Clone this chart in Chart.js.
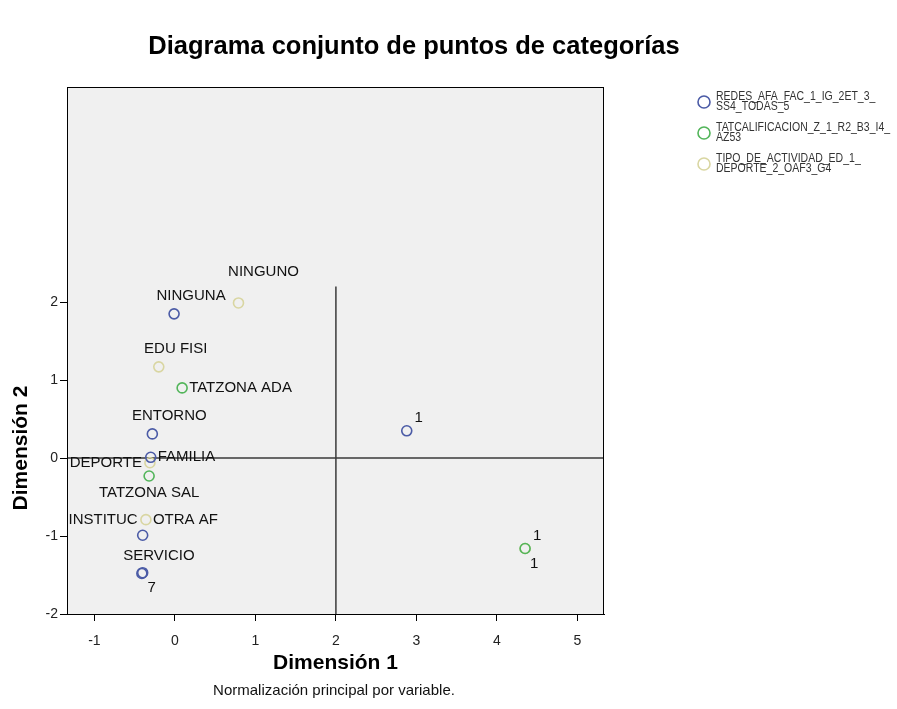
<!DOCTYPE html>
<html><head><meta charset="utf-8">
<script src="https://cdn.jsdelivr.net/npm/chart.js@4.4.1/dist/chart.umd.min.js"></script>
<style>html,body{margin:0;padding:0;background:#fff;}#wrap{width:897px;height:709px;position:relative;}</style>
</head><body><div id="wrap"><canvas id="c" width="897" height="709"></canvas></div>
<script>
const chartTitle = 'Diagrama conjunto de puntos de categorías';
const xTitle = 'Dimensión 1';
const yTitle = 'Dimensión 2';
const footnote = 'Normalización principal por variable.';
const seriesNames = [
  ['REDES_AFA_FAC_1_IG_2ET_3_', 'SS4_TODAS_5'],
  ['TATCALIFICACION_Z_1_R2_B3_I4_', 'AZ53'],
  ['TIPO_DE_ACTIVIDAD_ED_1_', 'DEPORTE_2_OAF3_G4']
];
const xTicks = [-1, 0, 1, 2, 3, 4, 5];
const yTicks = [-2, -1, 0, 1, 2];

const redesLabels = ['NINGUNA', 'ENTORNO', 'FAMILIA', 'INSTITUC', 'SERVICIO', '7', '1'];
const redesX = [-0.01, -0.28, -0.30, -0.40, -0.41, -0.40, 2.88];
const redesY = [1.85, 0.31, 0.01, -0.99, -1.48, -1.47, 0.35];

const tatLabels = ['TATZONA ADA', 'TATZONA SAL', '1'];
const tatX = [0.09, -0.32, 4.35];
const tatY = [0.90, -0.23, -1.16];

const tipoLabels = ['NINGUNO', 'EDU FISI', 'DEPORTE', 'OTRA AF', '1'];
const tipoX = [0.79, -0.20, -0.31, -0.36, 4.35];
const tipoY = [1.99, 1.17, -0.06, -0.79, -1.16];

// reference lines (data units)
const vLineX = [2, 2];
const vLineY = [-2, 2.2];
const hLineX = [-1.34, 5.33];
const hLineY = [0, 0];

// label placement codes (styling)
const redesPlace = ['ne', 'ne', 'e', 'nw', 'ne', 'se', 'ne1'];
const tatPlace = ['e', 's', 'ne1'];
const tipoPlace = ['nne', 'ne', 'w', 'e', 'se'];

const PLACE = {
  ne:  {dx: 17, dy: -18, align: 'center'},
  nne: {dx: 25, dy: -31, align: 'center'},
  e:   {dx: 7,  dy: 0,   align: 'left'},
  w:   {dx: -8, dy: 0,   align: 'right'},
  nw:  {dx: -5, dy: -15, align: 'right'},
  s:   {dx: 0,  dy: 17,  align: 'center'},
  se:  {dx: 9,  dy: 15,  align: 'center'},
  ne1: {dx: 12, dy: -13, align: 'center'}
};

const FONT = "'Liberation Sans', Arial, sans-serif";
const colors = ['#4b5ba6', '#52b55a', '#d9d6a2'];

function pts(xs, ys) { return xs.map((x, i) => ({x: x, y: ys[i]})); }

const pointSets = [
  {data: pts(redesX, redesY), labels: redesLabels, place: redesPlace},
  {data: pts(tatX, tatY), labels: tatLabels, place: tatPlace},
  {data: pts(tipoX, tipoY), labels: tipoLabels, place: tipoPlace}
];

const datasets = pointSets.map((s, i) => ({
  type: 'scatter',
  label: seriesNames[i].join(''),
  data: s.data,
  pointLabels: s.labels,
  pointPlace: s.place,
  pointStyle: 'circle',
  pointRadius: 5,
  pointHoverRadius: 5,
  pointBorderWidth: 1.6,
  borderColor: colors[i],
  backgroundColor: 'rgba(0,0,0,0)',
  order: 0
}));
datasets.push({
  type: 'line', data: pts(vLineX, vLineY), showLine: true, pointRadius: 0,
  borderColor: '#3a3a3a', borderWidth: 1.5, order: 1
});
datasets.push({
  type: 'line', data: pts(hLineX, hLineY), showLine: true, pointRadius: 0,
  borderColor: '#3a3a3a', borderWidth: 1.5, order: 1
});

const decor = {
  id: 'decor',
  beforeDraw(chart) {
    const {ctx, chartArea: a} = chart;
    ctx.save();
    ctx.fillStyle = '#ffffff';
    ctx.fillRect(0, 0, chart.width, chart.height);
    ctx.fillStyle = '#f0f0f0';
    ctx.fillRect(a.left, a.top, a.right - a.left, a.bottom - a.top);
    ctx.restore();
  },
  afterDraw(chart) {
    const {ctx, chartArea: a} = chart;
    ctx.save();
    // frame
    ctx.strokeStyle = '#000';
    ctx.lineWidth = 1;
    ctx.strokeRect(a.left + 0.5, a.top + 0.5, a.right - a.left - 1, a.bottom - a.top);
    // point labels
    ctx.fillStyle = '#111';
    ctx.font = '15px ' + FONT;
    ctx.textBaseline = 'middle';
    chart.data.datasets.forEach((ds, di) => {
      if (!ds.pointLabels) return;
      const meta = chart.getDatasetMeta(di);
      meta.data.forEach((el, j) => {
        const p = PLACE[ds.pointPlace[j]];
        ctx.textAlign = p.align;
        ctx.fillText(ds.pointLabels[j], el.x + p.dx, el.y + p.dy);
      });
    });
    // title
    ctx.font = 'bold 25.5px ' + FONT;
    ctx.textAlign = 'center';
    ctx.fillStyle = '#000';
    ctx.fillText(chartTitle, 414, 47);
    // footnote
    ctx.font = '15px ' + FONT;
    ctx.fillStyle = '#111';
    ctx.fillText(footnote, 334, 691);
    // y title
    ctx.save();
    ctx.translate(21, 448);
    ctx.rotate(-Math.PI / 2);
    ctx.font = 'bold 21px ' + FONT;
    ctx.fillStyle = '#000';
    ctx.fillText(yTitle, 0, 0);
    ctx.restore();
    // legend
    const lx = 704, tx = 716;
    const lineYs = [[97, 107], [128, 138], [159, 169]];
    ctx.textAlign = 'left';
    seriesNames.forEach((names, i) => {
      const cy = (lineYs[i][0] + lineYs[i][1]) / 2;
      ctx.beginPath();
      ctx.arc(lx, cy, 6, 0, Math.PI * 2);
      ctx.strokeStyle = colors[i];
      ctx.lineWidth = 1.6;
      ctx.stroke();
      ctx.fillStyle = '#333';
      ctx.save();
      ctx.translate(tx, 0);
      ctx.scale(0.84, 1);
      ctx.font = '12.5px ' + FONT;
      names.forEach((t, k) => ctx.fillText(t, 0, lineYs[i][k]));
      ctx.restore();
    });
    ctx.restore();
  }
};

Chart.defaults.font.family = FONT;

new Chart(document.getElementById('c'), {
  type: 'scatter',
  data: {datasets: datasets},
  options: {
    responsive: false,
    animation: false,
    devicePixelRatio: 1,
    layout: {padding: {top: 87, right: 293, left: 0, bottom: 0}},
    plugins: {legend: {display: false}, tooltip: {enabled: false}, title: {display: false}},
    scales: {
      x: {
        type: 'linear', min: -1.34, max: 5.33,
        afterBuildTicks: s => { s.ticks = xTicks.map(v => ({value: v})); },
        afterFit: s => { s.height = 95; },
        grid: {drawOnChartArea: false, drawTicks: true, tickLength: 7, color: '#000'},
        border: {display: true, color: '#000'},
        ticks: {font: {size: 14}, color: '#222', padding: 12, maxRotation: 0, autoSkip: false},
        title: {display: true, text: xTitle, color: '#000', font: {size: 21, weight: 'bold'}, padding: {top: 0, bottom: 33}}
      },
      y: {
        type: 'linear', min: -2, max: 4.76,
        afterBuildTicks: s => { s.ticks = yTicks.map(v => ({value: v})); },
        afterFit: s => { s.width = 67; },
        grid: {drawOnChartArea: false, drawTicks: true, tickLength: 7, color: '#000'},
        border: {display: true, color: '#000'},
        ticks: {font: {size: 14}, color: '#222', padding: 2, autoSkip: false},
        title: {display: false}
      }
    }
  },
  plugins: [decor]
});
</script>
</body></html>
